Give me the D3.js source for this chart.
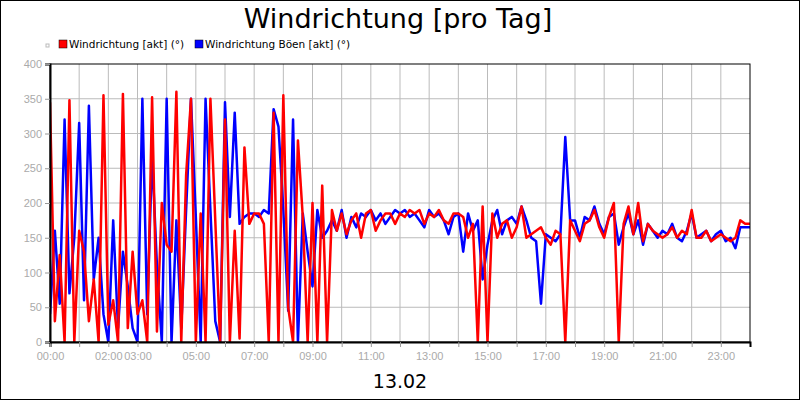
<!DOCTYPE html>
<html>
<head>
<meta charset="utf-8">
<script src="https://cdn.jsdelivr.net/npm/d3@7"></script>
<style>
  body { margin: 0; background: #fff; }
  svg { font-family: "DejaVu Sans", Arial, sans-serif; }
</style>
</head>
<body>
<svg id="chart" width="800" height="400"></svg>
<script>
// values every 10 minutes, 00:00 .. 24:00
const step_minutes = 10;
const wind_dir = [
  345, 30, 125, 0, 348, 0,
  160, 130, 30, 90, 0, 355,
  25, 60, 0, 357, 20, 130,
  40, 60, 0, 352, 15, 200,
  140, 130, 360, 0, 240, 350,
  0, 185, 0, 350, 175, 0,
  320, 0, 160, 5, 280, 170,
  185, 185, 170, 0, 330, 0,
  355, 50, 0, 290, 180, 0,
  200, 0, 225, 0, 190, 160,
  185, 155, 175, 185, 150, 185,
  190, 160, 175, 185, 185, 170,
  185, 180, 190, 185, 190, 170,
  185, 180, 190, 175, 170, 185,
  185, 180, 150, 170, 0, 195,
  0, 185, 150, 170, 175, 150,
  165, 195, 150, 155, 160, 165,
  150, 140, 160, 155, 0, 175,
  160, 145, 170, 175, 190, 165,
  150, 180, 200, 0, 170, 195,
  155, 200, 145, 170, 160, 155,
  150, 155, 165, 150, 160, 155,
  190, 150, 150, 160, 145, 150,
  155, 150, 145, 150, 175, 170,
  170
];
const wind_dir_gust = [
  40, 160, 55, 320, 70, 150,
  315, 60, 340, 90, 150, 40,
  0, 175, 20, 130, 80, 20,
  0, 350, 40, 270, 110, 0,
  350, 0, 175, 20, 190, 350,
  180, 0, 350, 190, 30, 0,
  345, 180, 330, 170, 180, 185,
  185, 180, 190, 185, 335, 310,
  190, 45, 320, 0, 185, 130,
  80, 190, 150, 160, 175, 160,
  190, 150, 180, 165, 185, 180,
  190, 175, 185, 170, 180, 190,
  185, 190, 180, 185, 175, 165,
  190, 180, 185, 175, 155, 180,
  185, 130, 185, 160, 175, 90,
  140, 175, 190, 155, 175, 180,
  170, 195, 175, 150, 145, 55,
  155, 150, 145, 155, 295, 175,
  175, 150, 180, 175, 195, 170,
  155, 180, 185, 140, 165, 185,
  155, 175, 140, 170, 160, 150,
  160, 155, 170, 150, 145, 160,
  185, 150, 155, 160, 145, 155,
  160, 145, 150, 135, 165, 165,
  165
];
const x_tick_hours = [0, 2, 3, 5, 7, 9, 11, 13, 15, 17, 19, 21, 23];
const y_ticks = [0, 50, 100, 150, 200, 250, 300, 350, 400];
const series = [
  { name: 'Windrichtung Böen [akt] (°)', values: wind_dir_gust, color: '#0000ff' },
  { name: 'Windrichtung [akt] (°)', values: wind_dir, color: '#ff0000' },
];

const margin = { top: 64, bottom: 58, left: 50, right: 50 };
const svg = d3.select('#chart');
const width = 800, height = 400;

svg.append('rect')
  .attr('x', 0.5).attr('y', 0.5)
  .attr('width', width - 1).attr('height', height - 1)
  .attr('fill', '#fff').attr('stroke', '#000');

const xScale = d3.scaleLinear().domain([0, 24]).range([margin.left, width - margin.right]);
const yScale = d3.scaleLinear().domain([0, 400]).range([height - margin.bottom, margin.top]);

// grid
svg.append('g').selectAll('line').data(d3.range(1, 24)).join('line')
  .attr('x1', (d) => xScale(d)).attr('x2', (d) => xScale(d))
  .attr('y1', margin.top).attr('y2', height - margin.bottom)
  .attr('stroke', '#bbb');
svg.append('g').selectAll('line').data(y_ticks.slice(1, -1)).join('line')
  .attr('x1', margin.left).attr('x2', width - margin.right)
  .attr('y1', (d) => yScale(d)).attr('y2', (d) => yScale(d))
  .attr('stroke', '#bbb');

// lines
svg.append('clipPath').attr('id', 'clip').append('rect')
  .attr('x', margin.left).attr('y', margin.top)
  .attr('width', width - margin.left - margin.right)
  .attr('height', height - margin.top - margin.bottom);

const line = d3.line()
  .x((d, i) => xScale(i * step_minutes / 60))
  .y((d) => yScale(d));

svg.append('g').attr('clip-path', 'url(#clip)')
  .selectAll('path').data(series).join('path')
  .attr('d', (d) => line(d.values))
  .attr('fill', 'none')
  .attr('stroke', (d) => d.color)
  .attr('stroke-width', 2.5)
  .attr('stroke-linejoin', 'round');

// frame
svg.append('rect')
  .attr('x', margin.left).attr('y', margin.top)
  .attr('width', width - margin.left - margin.right)
  .attr('height', height - margin.top - margin.bottom)
  .attr('fill', 'none').attr('stroke', '#000');

// axes
const x_axis = d3.axisBottom(xScale)
  .tickValues(d3.range(0, 24))
  .tickSize(5)
  .tickFormat((d) => x_tick_hours.includes(d) ? String(d).padStart(2, '0') + ':00' : '');
const gx = svg.append('g')
  .attr('transform', `translate(0,${height - margin.bottom})`)
  .call(x_axis);
gx.select('.domain').attr('stroke', '#000').attr('stroke-width', 2);
gx.selectAll('.tick line').attr('stroke', '#999');
gx.selectAll('text').attr('fill', '#aaa').attr('font-size', 11)
  .attr('font-family', 'Arial, "Liberation Sans", sans-serif').attr('dy', '0.9em');

const y_axis = d3.axisLeft(yScale).tickValues(y_ticks).tickSize(5);
const gy = svg.append('g')
  .attr('transform', `translate(${margin.left},0)`)
  .call(y_axis);
gy.select('.domain').attr('stroke', '#000').attr('stroke-width', 2);
gy.selectAll('.tick line').attr('stroke', '#999');
gy.selectAll('text').attr('fill', '#aaa').attr('font-size', 11)
  .attr('font-family', 'Arial, "Liberation Sans", sans-serif');

// title
svg.append('text')
  .attr('x', 398).attr('y', 28)
  .attr('text-anchor', 'middle')
  .attr('font-size', 27)
  .text('Windrichtung [pro Tag]');

svg.append('text')
  .attr('x', 400).attr('y', 388)
  .attr('text-anchor', 'middle')
  .attr('font-size', 19)
  .text('13.02');

// legend
svg.append('rect').attr('x', 46).attr('y', 44).attr('width', 3).attr('height', 3)
  .attr('fill', 'none').attr('stroke', '#bbb');
const legend = svg.append('g').selectAll('g').data([series[1], series[0]]).join('g')
  .attr('transform', (d, i) => `translate(${i === 0 ? 59 : 195},0)`);
legend.append('rect')
  .attr('x', 0).attr('y', 40).attr('width', 8).attr('height', 8)
  .attr('fill', (d) => d.color).attr('stroke', '#000').attr('stroke-width', 0.5);
legend.append('text')
  .attr('x', 10).attr('y', 48)
  .attr('font-size', 10.5)
  .text((d) => d.name);
</script>
</body>
</html>
